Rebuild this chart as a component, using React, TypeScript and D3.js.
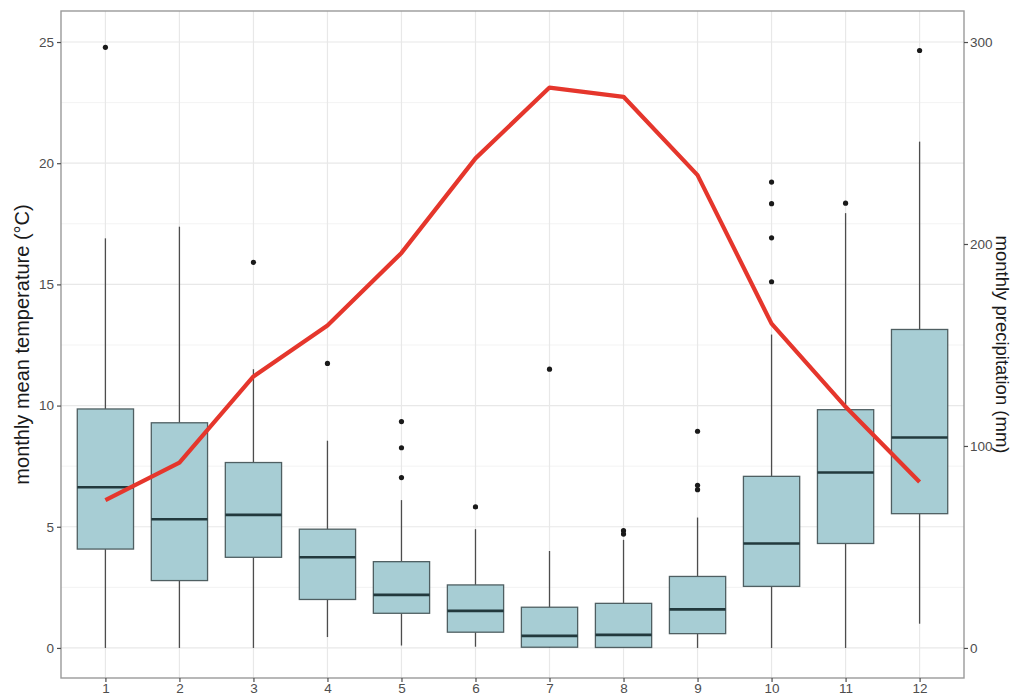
import React, { useEffect, useRef } from 'react';
import * as d3 from 'd3';

// months on the x axis
const months = ['1', '2', '3', '4', '5', '6', '7', '8', '9', '10', '11', '12'];

// box statistics per month (left axis units)
const whiskerLow = [0, 0, 0, 0.45, 0.1, 0.05, 0, 0, 0, 0, 0, 1.0];
const q1 = [4.08, 2.78, 3.74, 2.0, 1.43, 0.65, 0.03, 0.02, 0.59, 2.54, 4.31, 5.54];
const median = [6.63, 5.31, 5.49, 3.74, 2.19, 1.53, 0.5, 0.54, 1.59, 4.31, 7.24, 8.68];
const q3 = [9.86, 9.29, 7.65, 4.9, 3.56, 2.6, 1.68, 1.84, 2.95, 7.08, 9.83, 13.14];
const whiskerHigh = [16.9, 17.38, 11.5, 8.55, 6.1, 4.9, 4.0, 4.46, 5.38, 12.93, 17.94, 20.89];
const outliers = [
    [24.78],
    [],
    [15.91],
    [11.74],
    [9.34, 8.26, 7.03],
    [5.82],
    [11.5],
    [4.84, 4.7],
    [8.94, 6.71, 6.53],
    [15.11, 16.92, 18.33, 19.22],
    [18.35],
    [24.65],
];

// red line, read on the left axis
const lineValues = [6.1, 7.65, 11.2, 13.3, 16.3, 20.2, 23.12, 22.74, 19.51, 13.38, 9.95, 6.85];

const leftTicks = [0, 5, 10, 15, 20, 25];
const rightTicks = [0, 100, 200, 300];
const rightFactor = 12;

const leftTitle = 'monthly mean temperature (°C)';
const rightTitle = 'monthly precipitation (mm)';

export default function App() {
    const ref = useRef<SVGSVGElement>(null);

    useEffect(() => {
        document.body.style.margin = '0';
        const width = 1013;
        const height = 697;
        const panel = { left: 61, right: 964, top: 11, bottom: 678 };

        const svg = d3.select(ref.current);
        svg.selectAll('*').remove();

        const x = d3.scalePoint<string>().domain(months).range([panel.left, panel.right]).padding(0.6);
        const y = d3.scaleLinear().domain([-1.24, 26.28]).range([panel.bottom, panel.top]);
        const yRight = d3
            .scaleLinear()
            .domain([-1.24 * rightFactor, 26.28 * rightFactor])
            .range([panel.bottom, panel.top]);
        const boxW = x.step() * 0.76;

        svg.append('rect')
            .attr('x', panel.left)
            .attr('y', panel.top)
            .attr('width', panel.right - panel.left)
            .attr('height', panel.bottom - panel.top)
            .attr('fill', 'white');

        // grid
        const grid = svg.append('g');
        const minor = d3.range(2.5, 26, 5);
        grid.selectAll('.minor')
            .data(minor)
            .enter()
            .append('line')
            .attr('x1', panel.left)
            .attr('x2', panel.right)
            .attr('y1', (d) => y(d))
            .attr('y2', (d) => y(d))
            .attr('stroke', '#f3f3f3')
            .attr('stroke-width', 1);
        grid.selectAll('.major')
            .data(leftTicks)
            .enter()
            .append('line')
            .attr('x1', panel.left)
            .attr('x2', panel.right)
            .attr('y1', (d) => y(d))
            .attr('y2', (d) => y(d))
            .attr('stroke', '#e8e8e8')
            .attr('stroke-width', 1.2);
        grid.selectAll('.vert')
            .data(months)
            .enter()
            .append('line')
            .attr('x1', (d) => x(d)!)
            .attr('x2', (d) => x(d)!)
            .attr('y1', panel.top)
            .attr('y2', panel.bottom)
            .attr('stroke', '#e8e8e8')
            .attr('stroke-width', 1.2);

        // boxes
        const boxes = svg
            .append('g')
            .selectAll('g')
            .data(months)
            .enter()
            .append('g');

        boxes.append('line')
            .attr('x1', (d) => x(d)!)
            .attr('x2', (d) => x(d)!)
            .attr('y1', (d, i) => y(q3[i]))
            .attr('y2', (d, i) => y(whiskerHigh[i]))
            .attr('stroke', '#4d4d4d')
            .attr('stroke-width', 1.3);
        boxes.append('line')
            .attr('x1', (d) => x(d)!)
            .attr('x2', (d) => x(d)!)
            .attr('y1', (d, i) => y(q1[i]))
            .attr('y2', (d, i) => y(whiskerLow[i]))
            .attr('stroke', '#4d4d4d')
            .attr('stroke-width', 1.3);
        boxes.append('rect')
            .attr('x', (d) => x(d)! - boxW / 2)
            .attr('width', boxW)
            .attr('y', (d, i) => y(q3[i]))
            .attr('height', (d, i) => y(q1[i]) - y(q3[i]))
            .attr('fill', '#a7cdd4')
            .attr('stroke', '#4f5f62')
            .attr('stroke-width', 1.3);
        boxes.append('line')
            .attr('x1', (d) => x(d)! - boxW / 2)
            .attr('x2', (d) => x(d)! + boxW / 2)
            .attr('y1', (d, i) => y(median[i]))
            .attr('y2', (d, i) => y(median[i]))
            .attr('stroke', '#22393d')
            .attr('stroke-width', 2.6);
        boxes.each(function (d, i) {
            d3.select(this)
                .selectAll('circle')
                .data(outliers[i])
                .enter()
                .append('circle')
                .attr('cx', x(d)!)
                .attr('cy', (v) => y(v))
                .attr('r', 2.6)
                .attr('fill', '#1a1a1a');
        });

        // red line
        const line = d3
            .line<number>()
            .x((d, i) => x(months[i])!)
            .y((d) => y(d));
        svg.append('path')
            .datum(lineValues)
            .attr('d', line)
            .attr('fill', 'none')
            .attr('stroke', '#e5362c')
            .attr('stroke-width', 4.2)
            .attr('stroke-linejoin', 'round');

        // panel border
        svg.append('rect')
            .attr('x', panel.left)
            .attr('y', panel.top)
            .attr('width', panel.right - panel.left)
            .attr('height', panel.bottom - panel.top)
            .attr('fill', 'none')
            .attr('stroke', '#9a9a9a')
            .attr('stroke-width', 1.4);

        const tickFont = 'Liberation Sans, Arial, sans-serif';

        // left axis
        const gl = svg.append('g').attr('transform', `translate(${panel.left},0)`);
        gl.call(d3.axisLeft(y).tickValues(leftTicks).tickSize(4).tickPadding(3));
        // bottom axis
        const gb = svg.append('g').attr('transform', `translate(0,${panel.bottom})`);
        gb.call(d3.axisBottom(x).tickSize(4).tickPadding(1));
        // right axis
        const gr = svg.append('g').attr('transform', `translate(${panel.right},0)`);
        gr.call(d3.axisRight(yRight).tickValues(rightTicks).tickSize(4).tickPadding(2));

        [gl, gb, gr].forEach((g) => {
            g.select('.domain').remove();
            g.selectAll('line').attr('stroke', '#4d4d4d').attr('stroke-width', 1.2);
            g.selectAll('text')
                .attr('fill', '#4d4d4d')
                .style('font-family', tickFont)
                .style('font-size', '13.5px');
        });

        const midY = (panel.top + panel.bottom) / 2;
        svg.append('text')
            .attr('transform', `translate(29,${midY}) rotate(-90)`)
            .attr('text-anchor', 'middle')
            .style('font-family', tickFont)
            .style('font-size', '20px')
            .attr('fill', '#1a1a1a')
            .text(leftTitle);
        svg.append('text')
            .attr('transform', `translate(996,${midY}) rotate(90)`)
            .attr('text-anchor', 'middle')
            .style('font-family', tickFont)
            .style('font-size', '18.5px')
            .attr('fill', '#1a1a1a')
            .text(rightTitle);

        svg.attr('width', width).attr('height', height);
    }, []);

    return <svg ref={ref} width={1013} height={697} style={{ display: 'block', background: 'white' }} />;
}
